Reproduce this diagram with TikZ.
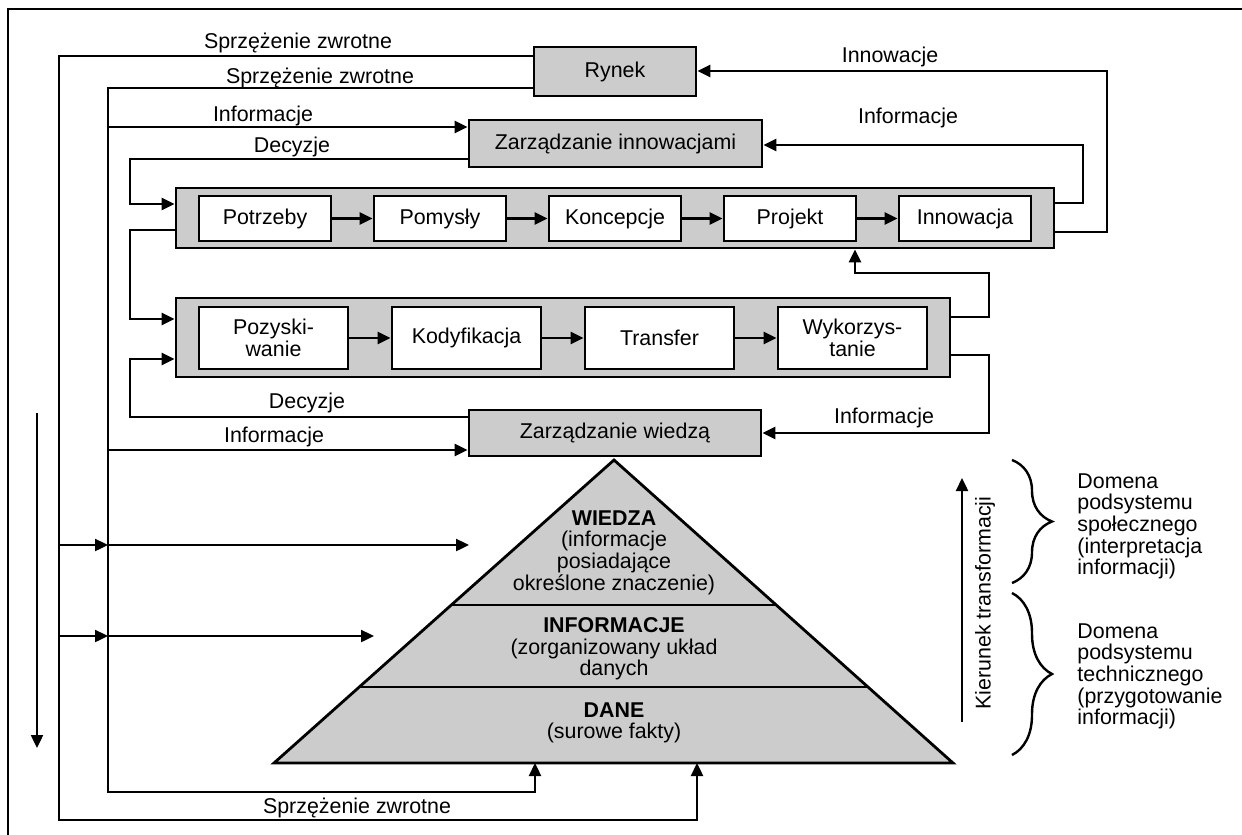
\documentclass[tikz,border=0pt]{standalone}
\usepackage{fontspec}
\setmainfont{Liberation Sans}
\usetikzlibrary{arrows.meta, calc, decorations.pathreplacing}
\definecolor{boxgrey}{RGB}{204,204,204}

\begin{document}
\begin{tikzpicture}[x=0.5pt, y=-0.5pt,
  every node/.style={font=\fontsize{10.7}{10.85}\selectfont},
  arr/.style={-{Triangle[length=6.5pt,width=6pt]}, line width=1.2pt},
  greybox/.style={draw, line width=1.4pt, fill=boxgrey, inner sep=0pt},
  whitebox/.style={draw, line width=1.4pt, fill=white, align=center, inner sep=0pt},
  lab/.style={anchor=base, inner sep=0pt},
  pyrtext/.style={align=center, anchor=north, inner sep=0pt},
  domtext/.style={align=left, anchor=north west, inner sep=0pt},
  curly/.style={line width=1.2pt, decorate, decoration={brace, amplitude=20pt}}]
\useasboundingbox (0,0) rectangle (1242,835);
% frame
\draw[line width=1pt] (1242,9) -- (8,9) -- (8,835);

% management boxes and process boxes
\node[greybox, minimum width=81pt, minimum height=24.5pt] (rynek) at (615,71.5) {Rynek};
\node[greybox, minimum width=146.5pt, minimum height=23.5pt] (zinn) at (615.5,143.5) {Zarządzanie innowacjami};
\node[greybox, minimum width=439pt, minimum height=30pt] (proc1) at (615,218) {};
\node[greybox, minimum width=387pt, minimum height=39.5pt] (proc2) at (563,337.5) {};
\node[greybox, minimum width=146pt, minimum height=23pt] (zwie) at (615,433) {Zarządzanie wiedzą};

\foreach \nm/\tx [count=\i] in {potrz/Potrzeby, pomys/Pomysły, konc/Koncepcje, proj/Projekt, innow/Innowacja}
  \node[whitebox, minimum width=66pt, minimum height=22.5pt] (\nm) at ({265+175*(\i-1)},218.5) {\tx};
\foreach \nm/\tx [count=\i] in {pozy/{Pozyski-\\wanie}, kody/Kodyfikacja, trans/Transfer, wyko/{Wykorzys-\\tanie}}
  \node[whitebox, minimum width=74.5pt, minimum height=31pt] (\nm) at ({273.5+193*(\i-1)},338) {\tx};
\foreach \a/\b in {potrz/pomys, pomys/konc, konc/proj, proj/innow, pozy/kody, kody/trans, trans/wyko}
  \draw[arr] (\a) -- (\b);

% pyramid
\coordinate (apex) at (614,460);
\coordinate (baseL) at (274,763);
\coordinate (baseR) at (953,763);
\filldraw[fill=boxgrey, line width=1.4pt] (apex) -- (baseR) -- (baseL) -- cycle;
\draw[line width=1.4pt] ($(apex)!0.4785!(baseL)$) -- ($(apex)!0.4785!(baseR)$);
\draw[line width=1.4pt] ($(apex)!0.7492!(baseL)$) -- ($(apex)!0.7492!(baseR)$);
\node[pyrtext] (wiedza) at (614,510) {\textbf{WIEDZA}\\(informacje\\posiadające\\określone znaczenie)};
\node[pyrtext] (inform) at (614,617) {\textbf{INFORMACJE}\\(zorganizowany układ\\danych};
\node[pyrtext] (dane) at (614,702) {\textbf{DANE}\\(surowe fakty)};
\coordinate (fbL) at (535,763);
\coordinate (fbR) at (697,763);

% connectors
\draw[arr] (rynek.west |- 0,56) -| (59,820) -| (fbR);
\draw[arr] (rynek.west |- 0,88) -| (108,792) -| (fbL);
\draw[arr] (108,127) -- (zinn.west |- 0,127);
\draw[arr] (zinn.west |- 0,159) -| (130,204) -- (proc1.west |- 0,204);
\draw[arr] (proc1.west |- 0,230) -| (130,319) -- (proc2.west |- 0,319);
\draw[arr] (zwie.west |- 0,417) -| (130,359) -- (proc2.west |- 0,359);
\draw[arr] (108,450) -- (zwie.west |- 0,450);
\draw[arr] (proc1.east |- 0,232) -| (1107,71) -- (rynek.east |- 0,71);
\draw[arr] (proc1.east |- 0,203) -| (1083,145) -- (zinn.east |- 0,145);
\draw[arr] (proc2.east |- 0,317) -| (989,273) -| (proc1.south -| 855,0);
\draw[arr] (proc2.east |- 0,355) -| (989,433) -- (zwie.east);
\draw[arr] (59,545) -- (108,545);
\draw[arr] (108,545) -- (469,545);
\draw[arr] (59,636) -- (108,636);
\draw[arr] (108,636) -- (374,636);
\draw[arr] (37,413) -- (37,748);

% labels
\node[lab] (lsz1) at (298,48) {Sprzężenie zwrotne};
\node[lab] (lsz2) at (320,83) {Sprzężenie zwrotne};
\node[lab] (linf1) at (263,121) {Informacje};
\node[lab] (ldec1) at (292,152) {Decyzje};
\node[lab] (linn) at (890,62) {Innowacje};
\node[lab] (linf2) at (908,123) {Informacje};
\node[lab] (ldec2) at (307,408) {Decyzje};
\node[lab] (linf3) at (274,442) {Informacje};
\node[lab] (linf4) at (884,423) {Informacje};
\node[lab] (lsz3) at (357,813) {Sprzężenie zwrotne};

% direction and domains
\draw[arr] (962,722) -- (962,478);
\node[rotate=90] (kier) at (985,603) {Kierunek transformacji};
\draw[curly] (1012,460) -- (1012,583);
\draw[curly] (1012,593) -- (1012,755);
\node[domtext] (dspol) at (1077,473) {Domena\\podsystemu\\społecznego\\(interpretacja\\informacji)};
\node[domtext] (dtech) at (1077,623) {Domena\\podsystemu\\technicznego\\(przygotowanie\\informacji)};
\end{tikzpicture}
\end{document}
